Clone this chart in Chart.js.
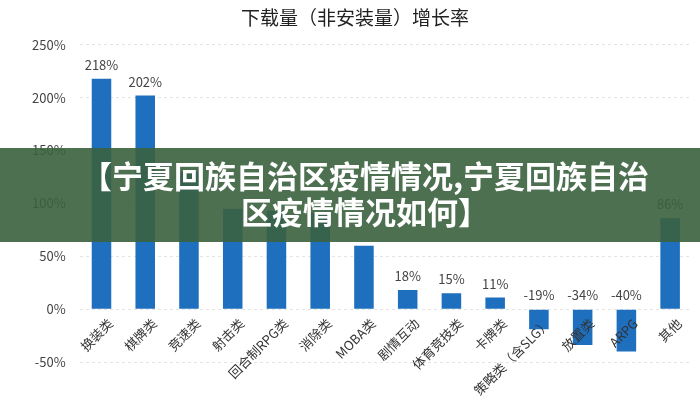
<!DOCTYPE html><html><head><meta charset="utf-8">
<script src="https://cdn.jsdelivr.net/npm/chart.js@4"></script>
<style>body{margin:0;background:#fff}#w{position:relative;width:700px;height:400px;overflow:hidden}
#b{position:absolute;left:0;top:148px;width:700px;height:94px;background:rgba(58,96,62,0.9);color:#fff;font:bold 31px "Noto Sans CJK SC";text-align:center;line-height:36px;padding:9px 0 0 30px;box-sizing:border-box;white-space:nowrap}</style></head><body>
<div id="w"><canvas id="c" width="700" height="400"></canvas><div id="b">【宁夏回族自治区疫情情况,宁夏回族自治<br>区疫情情况如何】</div></div>
<script>
const categories=['换装类','棋牌类','竞速类','射击类','回合制RPG类','消除类','MOBA类','剧情互动','体育竞技类','卡牌类','策略类（含SLG）','放置类','ARPG','其他'];
const values=[218,202,130,95,93,91,60,18,15,11,-19,-34,-40,86];
const labels=['218%','202%','','','','','','18%','15%','11%','-19%','-34%','-40%','86%'];
const yTicks=[-50,0,50,100,150,200,250];
Chart.defaults.font.family='"Noto Sans CJK SC"';
new Chart(document.getElementById('c'),{type:'bar',
data:{labels:categories,datasets:[{data:values,backgroundColor:'#1e6fbd',barPercentage:0.47,categoryPercentage:0.95}]},
options:{responsive:false,animation:false,layout:{padding:{left:18,right:8,top:0,bottom:30}},
plugins:{legend:{display:false},title:{display:true,text:'下载量（非安装量）增长率',color:'#222',font:{size:19,weight:'normal'},padding:{top:6,bottom:16}}},
scales:{y:{min:-50,max:250,afterBuildTicks:a=>{a.ticks=yTicks.map(v=>({value:v}))},ticks:{callback:v=>v+'%',color:'#444',font:{size:13},padding:14},grid:{color:'#e4e4e4',drawTicks:false},border:{display:false,dash:[3,3]}},
x:{grid:{display:false},border:{display:false},ticks:{display:false}}}},
plugins:[{id:'l',afterDatasetsDraw(ch){const x=ch.ctx,m=ch.getDatasetMeta(0),z=ch.scales.y.getPixelForValue(0);x.save();x.font='13px "Noto Sans CJK SC"';x.fillStyle='#444';x.textAlign='center';
m.data.forEach((b,i)=>{if(labels[i]){const y=values[i]>=0?b.y-9:z-9;x.fillText(labels[i],b.x,y)}
x.save();x.translate(b.x+9,z+12);x.rotate(-Math.PI/4);x.textAlign='right';x.textBaseline='middle';x.fillStyle='#333';x.fillText(categories[i],0,0);x.restore()});x.restore()}}]});
</script></body></html>
